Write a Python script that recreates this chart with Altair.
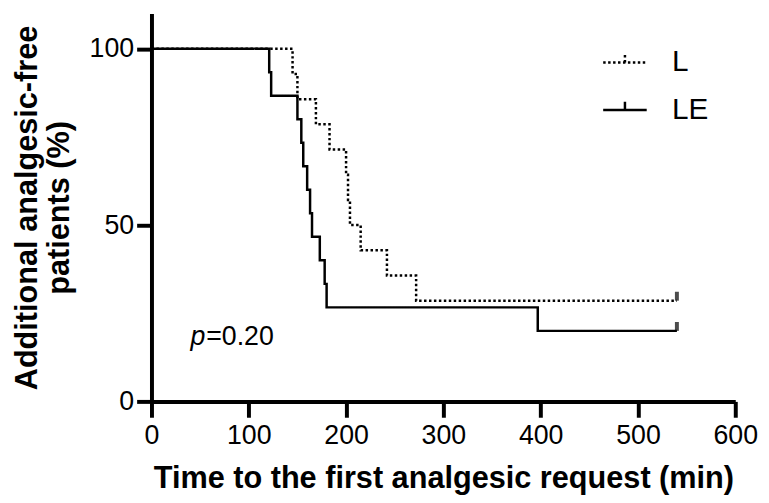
import altair as alt
import pandas as pd

# Kaplan-Meier step data
l_time = [0, 145, 150, 169, 183, 200, 202, 204, 215, 242, 272, 540]
l_surv = [100, 92.86, 85.71, 78.57, 71.43, 64.29, 57.14, 50.0, 42.86, 35.71, 28.57, 28.57]
le_time = [0, 121, 123, 150, 154, 156, 160, 163, 165, 173, 178, 180, 397, 540]
le_surv = [100, 93.33, 86.67, 80.0, 73.33, 66.67, 60.0, 53.33, 46.67, 40.0, 33.33, 26.67, 20.0, 20.0]
groups = ["L", "LE"]
censor_time = [540, 540]
censor_surv = [28.57, 20.0]
x_ticks = [0, 100, 200, 300, 400, 500, 600]
y_ticks = [0, 50, 100]
p_label = ["p", "=0.20"]

rows = []
for i, (t, s) in enumerate(zip(l_time, l_surv)):
    rows.append({"group": "L", "time": t, "surv": s, "idx": i})
for i, (t, s) in enumerate(zip(le_time, le_surv)):
    rows.append({"group": "LE", "time": t, "surv": s, "idx": i})
df = pd.DataFrame(rows)
cens = pd.DataFrame({"group": groups, "time": censor_time, "surv": censor_surv})

FONT = "Liberation Sans"

x_enc = alt.X(
    "time:Q",
    scale=alt.Scale(domain=[0, 600], nice=False, zero=False),
    axis=alt.Axis(
        values=x_ticks,
        title="Time to the first analgesic request (min)",
        titleFont=FONT, titleFontSize=31, titleFontWeight="bold", titleColor="black",
        titleX=295, titleY=87, titleBaseline="alphabetic", titleAlign="center",
        labelFont=FONT, labelFontSize=27, labelColor="black", labelPadding=6,
        labelFlush=False, labelOverlap=False,
        tickSize=16, tickWidth=4, tickColor="black",
        domainWidth=4, domainColor="black", grid=False,
    ),
)
y_enc = alt.Y(
    "surv:Q",
    scale=alt.Scale(domain=[0, 110], nice=False),
    axis=alt.Axis(
        values=y_ticks,
        title=["Additional analgesic-free", "patients (%)"],
        titleFont=FONT, titleFontSize=31, titleFontWeight="bold", titleColor="black",
        titleAngle=270, titleLineHeight=32, titleBaseline="alphabetic", titleAlign="center",
        titleX=-116, titleY=196,
        labelFont=FONT, labelFontSize=27, labelColor="black", labelPadding=3,
        labelFlush=False, labelOverlap=False,
        tickSize=15, tickWidth=4, tickColor="black",
        domainWidth=4, domainColor="black", grid=False,
    ),
)

lines = alt.Chart(df).mark_line(
    interpolate="step-after", color="black", strokeWidth=2.5, strokeCap="butt"
).encode(
    x=x_enc,
    y=y_enc,
    detail="group:N",
    order="idx:Q",
    strokeDash=alt.StrokeDash(
        "group:N",
        scale=alt.Scale(domain=groups, range=[[2.5, 2.5], [1, 0]]),
        legend=alt.Legend(
            title=None, orient="none", legendX=455, legendY=26, padding=0,
            symbolType="M-1,0L1,0M0,0L0,-0.38", symbolSize=1936,
            symbolStrokeWidth=2.5, symbolStrokeColor="black", symbolFillColor="transparent",
            labelFont=FONT, labelFontSize=30, labelColor="black", labelOffset=24,
            rowPadding=9,
        ),
    ),
)

ticks = alt.Chart(cens).mark_tick(
    orient="vertical", color="black", thickness=4, size=9, yOffset=-4.5
).encode(x="time:Q", y="surv:Q")

p_italic = alt.Chart().mark_text(
    font=FONT, fontSize=27, fontStyle="italic", align="left", baseline="alphabetic", color="black"
).encode(x=alt.datum(40), y=alt.datum(16), text=alt.value(p_label[0]))

p_rest = alt.Chart().mark_text(
    font=FONT, fontSize=27, align="left", baseline="alphabetic", color="black", dx=16
).encode(x=alt.datum(40), y=alt.datum(16), text=alt.value(p_label[1]))

chart = alt.layer(lines, ticks, p_italic, p_rest).properties(
    width=590, height=392,
    background="white",
    autosize=alt.AutoSizeParams(type="none"),
    padding={"left": 145, "top": 3, "right": 26, "bottom": 92},
).configure_view(strokeWidth=0)

chart.save("out.html", embed_options={"renderer": "svg", "actions": False})
